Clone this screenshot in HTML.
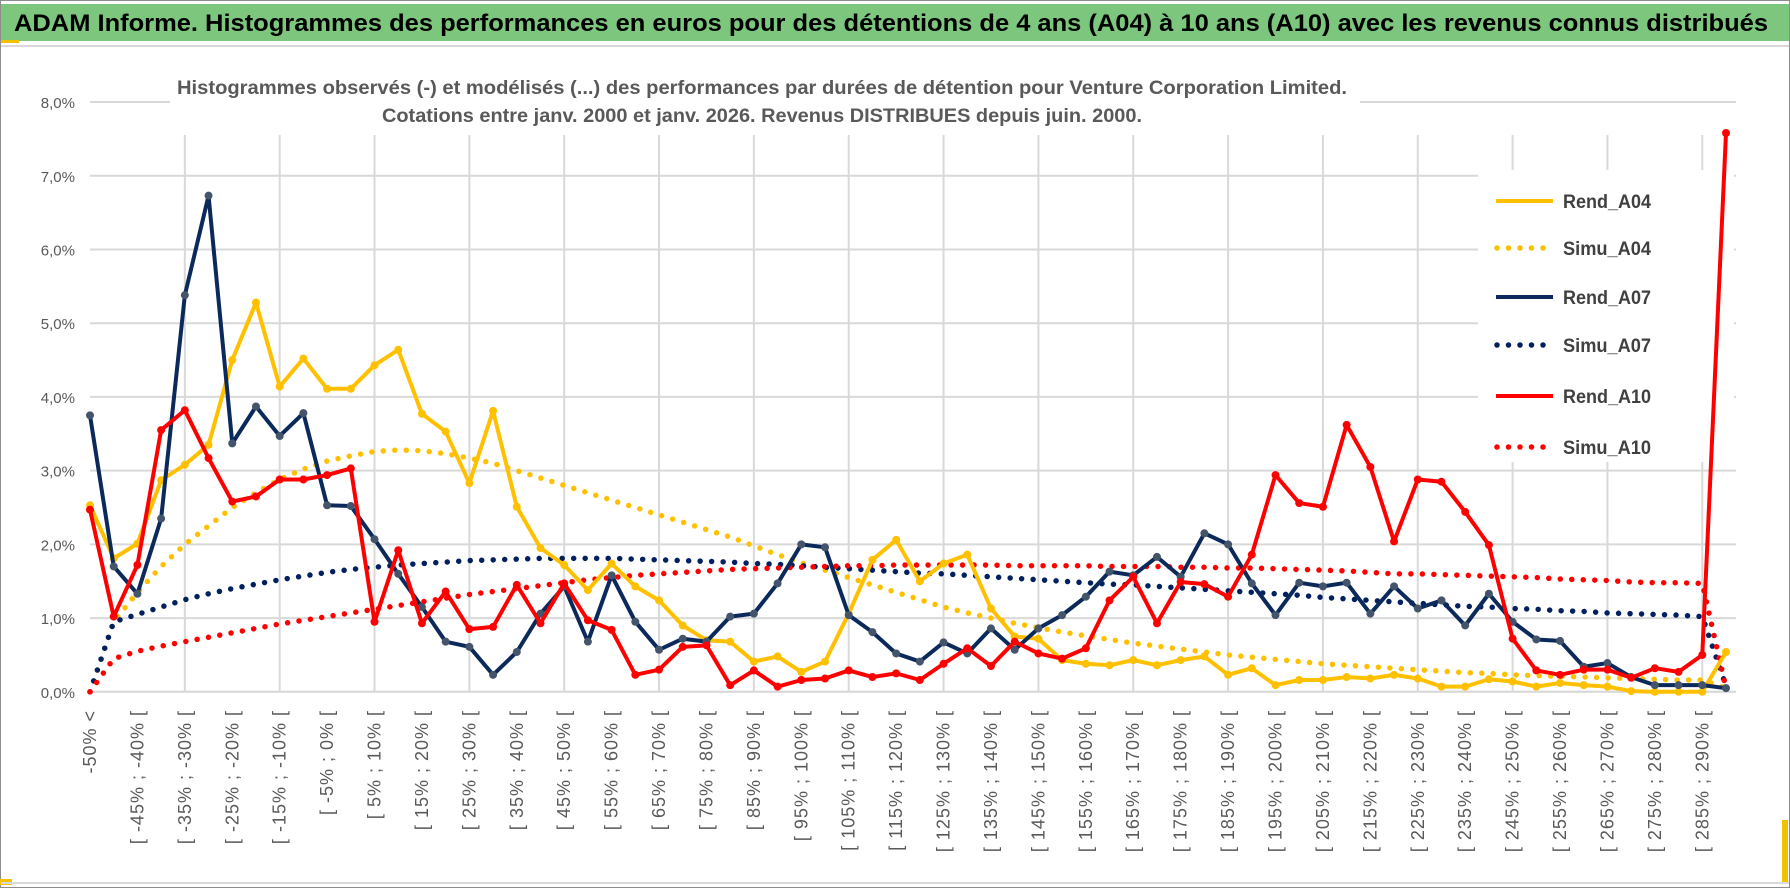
<!DOCTYPE html>
<html><head><meta charset="utf-8">
<style>
html,body{margin:0;padding:0;background:#fff}
body{width:1790px;height:888px;overflow:hidden;font-family:"Liberation Sans",sans-serif}
svg text{font-family:"Liberation Sans",sans-serif}
</style></head>
<body>
<svg id="chart" width="1790" height="888" viewBox="0 0 1790 888" xmlns="http://www.w3.org/2000/svg">
<rect x="0.5" y="0.5" width="1789" height="887" fill="#fff" stroke="#8c8c8c"/>
<rect x="1" y="4" width="1788" height="37" fill="#7dc67e"/>
<rect x="1" y="40" width="18" height="3" fill="#f2c200"/>
<line x1="1" y1="46" x2="1789" y2="46" stroke="#d9d9d9" stroke-width="2"/>
<text x="14" y="31" font-size="24" font-weight="bold" fill="#000" textLength="1754" lengthAdjust="spacingAndGlyphs">ADAM Informe. Histogrammes des performances en euros pour des détentions de 4 ans (A04) à 10 ans (A10) avec les revenus connus distribués</text>
<g id="grid"></g>
<rect x="170" y="70" width="1190" height="62" fill="#fff"/>
<text x="177" y="94" font-size="19" font-weight="bold" fill="#595959" textLength="1170" lengthAdjust="spacingAndGlyphs">Histogrammes observés (-) et modélisés (...) des performances par durées de détention pour Venture Corporation Limited.</text>
<text x="382" y="122" font-size="19" font-weight="bold" fill="#595959" textLength="760" lengthAdjust="spacingAndGlyphs">Cotations entre janv. 2000 et janv. 2026. Revenus DISTRIBUES depuis juin. 2000.</text>
<g id="yaxis"></g>
<g id="xaxis"></g>
<g id="legend"></g>
<g id="series"></g>
<rect x="0" y="879" width="12" height="6" fill="#f2c200"/>
<rect x="1782" y="820" width="6" height="64" fill="#f2c200"/>
<line x1="1" y1="883" x2="1789" y2="883" stroke="#d9d9d9" stroke-width="2"/>
</svg>
<script>
const yTicks = [0,1,2,3,4,5,6,7,8];
const rendA04 = [2.53,1.81,2.01,2.87,3.08,3.35,4.5,5.28,4.14,4.52,4.11,4.11,4.43,4.64,3.77,3.53,2.83,3.81,2.51,1.95,1.72,1.38,1.74,1.43,1.24,0.9,0.7,0.68,0.41,0.48,0.27,0.41,1.06,1.79,2.06,1.5,1.74,1.86,1.13,0.75,0.72,0.43,0.38,0.36,0.43,0.36,0.43,0.48,0.23,0.32,0.09,0.16,0.16,0.2,0.18,0.23,0.18,0.07,0.07,0.17,0.14,0.07,0.12,0.09,0.07,0.01,0,0,0,0.54];
const rendA07 = [3.75,1.7,1.33,2.35,5.38,6.73,3.37,3.87,3.47,3.78,2.53,2.52,2.07,1.6,1.15,0.68,0.61,0.23,0.54,1.06,1.43,0.68,1.58,0.95,0.57,0.72,0.68,1.02,1.06,1.47,2.0,1.96,1.04,0.81,0.52,0.41,0.67,0.52,0.86,0.57,0.86,1.04,1.29,1.63,1.58,1.83,1.56,2.15,2.0,1.47,1.04,1.48,1.43,1.48,1.06,1.43,1.13,1.24,0.9,1.33,0.95,0.71,0.69,0.34,0.39,0.2,0.09,0.09,0.09,0.05];
const rendA10 = [2.47,1.02,1.72,3.55,3.82,3.17,2.58,2.65,2.88,2.88,2.94,3.03,0.95,1.92,0.93,1.36,0.85,0.88,1.45,0.93,1.47,0.97,0.84,0.23,0.3,0.61,0.63,0.09,0.29,0.07,0.16,0.18,0.29,0.2,0.25,0.16,0.38,0.59,0.35,0.68,0.52,0.45,0.59,1.24,1.56,0.93,1.49,1.46,1.29,1.86,2.94,2.56,2.51,3.62,3.05,2.04,2.88,2.85,2.44,1.99,0.72,0.29,0.23,0.3,0.3,0.19,0.32,0.27,0.5,7.58];
const simuA04 = [0,0.95,1.35,1.7,2.0,2.25,2.5,2.7,2.88,3.02,3.13,3.2,3.26,3.28,3.27,3.23,3.17,3.1,3.0,2.9,2.8,2.7,2.6,2.5,2.4,2.3,2.2,2.1,1.98,1.86,1.75,1.65,1.55,1.45,1.35,1.25,1.15,1.07,1.0,0.93,0.87,0.81,0.76,0.71,0.66,0.62,0.58,0.54,0.5,0.47,0.44,0.41,0.38,0.36,0.34,0.32,0.3,0.28,0.26,0.25,0.23,0.22,0.21,0.2,0.19,0.18,0.17,0.16,0.16,0.05];
const simuA07 = [0,0.95,1.05,1.15,1.25,1.33,1.4,1.46,1.52,1.57,1.62,1.66,1.69,1.72,1.74,1.76,1.78,1.79,1.8,1.81,1.81,1.81,1.81,1.8,1.79,1.78,1.77,1.76,1.74,1.73,1.71,1.69,1.67,1.65,1.63,1.61,1.6,1.58,1.56,1.54,1.52,1.5,1.48,1.46,1.45,1.43,1.41,1.39,1.37,1.35,1.33,1.31,1.28,1.26,1.24,1.22,1.2,1.18,1.16,1.15,1.13,1.12,1.1,1.09,1.07,1.06,1.05,1.04,1.02,0.08];
const simuA10 = [0,0.45,0.55,0.62,0.68,0.74,0.8,0.86,0.92,0.97,1.02,1.07,1.12,1.17,1.22,1.27,1.32,1.36,1.4,1.44,1.48,1.52,1.55,1.58,1.6,1.62,1.64,1.66,1.67,1.68,1.69,1.7,1.71,1.71,1.72,1.72,1.72,1.72,1.72,1.71,1.71,1.71,1.71,1.7,1.7,1.7,1.69,1.69,1.68,1.68,1.67,1.66,1.65,1.64,1.62,1.6,1.6,1.59,1.58,1.57,1.56,1.55,1.53,1.52,1.51,1.49,1.48,1.48,1.47,0.05];
const categories = [];
categories.push('-50% <');
for (let k = 1; k < 70; k++) { categories.push('[ ' + (-55 + 5*k) + '% ; ' + (-50 + 5*k) + '% ['); }
const legendNames = ['Rend_A04','Simu_A04','Rend_A07','Simu_A07','Rend_A10','Simu_A10'];

const NS = 'http://www.w3.org/2000/svg';
const X0 = 90, X1 = 1726, Y0 = 691.8, YPER = 73.72, RIGHT = 1736;
const xS = i => X0 + i * (X1 - X0) / (categories.length - 1);
const yS = v => Y0 - v * YPER;
function mk(tag, attrs, parent){ const e = document.createElementNS(NS, tag); for (const k in attrs) e.setAttribute(k, attrs[k]); parent.appendChild(e); return e; }

const grid = document.getElementById('grid');
yTicks.forEach(t => {
  const l = mk('line', {x1:X0, x2:RIGHT, y1:yS(t), y2:yS(t), stroke:'#d9d9d9', 'stroke-width':2}, grid);
  
  
});
for (let i = 4; i < categories.length; i += 4) {
  const l = mk('line', {x1:xS(i), x2:xS(i), y1:135, y2:Y0, stroke:'#d9d9d9', 'stroke-width':2}, grid);
  
  
}
const yax = document.getElementById('yaxis');
yTicks.forEach(t => {
  const tx = mk('text', {x:75, y:yS(t)+6, 'font-size':15, fill:'#595959', 'text-anchor':'end'}, yax);
  tx.textContent = t.toFixed(1).replace('.', ',') + '%';
  
  
});
const xax = document.getElementById('xaxis');
const al = mk('line', {x1:X0, x2:RIGHT, y1:Y0, y2:Y0, stroke:'#d9d9d9', 'stroke-width':2}, xax);


categories.forEach((c, i) => {
  if (i % 2) return;
  const x = xS(i) + 6;
  const tx = mk('text', {x:0, y:0, 'font-size':18, 'letter-spacing':1, fill:'#595959', 'text-anchor':'end', transform:'translate(' + x + ',710) rotate(-90)'}, xax);
  tx.textContent = c;
  
  
});

const ser = document.getElementById('series');
function dotted(data, color, name){
  const p = mk('polyline', {points:data.map((v,i)=>xS(i)+','+yS(v)).join(' '), fill:'none', stroke:color, 'stroke-width':5.5, 'stroke-linecap':'round', 'stroke-dasharray':'0 11.5'}, ser);
  
  
}
function solid(data, color, mcol, name){
  const g = mk('g', {}, ser);
  
  
  mk('polyline', {points:data.map((v,i)=>xS(i)+','+yS(v)).join(' '), fill:'none', stroke:color, 'stroke-width':4, 'stroke-linejoin':'round'}, g);
  data.forEach((v,i) => {
    const c = mk('circle', {cx:xS(i), cy:yS(v), r:4, fill:mcol}, g);
    
    
  });
}
dotted(simuA04, '#ffc000', 'simu-a04-line');
dotted(simuA07, '#002060', 'simu-a07-line');
dotted(simuA10, '#ff0000', 'simu-a10-line');
solid(rendA04, '#ffc000', '#ffc000', 'rend-a04-line');
solid(rendA07, '#0b2a5b', '#44546a', 'rend-a07-line');
solid(rendA10, '#ff0000', '#ff0000', 'rend-a10-line');

const leg = document.getElementById('legend');
const lb = mk('rect', {x:1478, y:170, width:256, height:292, fill:'#fff'}, leg);


const legColors = ['#ffc000','#ffc000','#0b2a5b','#002060','#ff0000','#ff0000'];
const legY = [201,248,297,345,396,447];
legendNames.forEach((n, k) => {
  const g = mk('g', {}, leg);
  
  
  const y = legY[k];
  if (k % 2 === 0) mk('line', {x1:1496, x2:1553, y1:y, y2:y, stroke:legColors[k], 'stroke-width':4}, g);
  else mk('line', {x1:1497, x2:1553, y1:y, y2:y, stroke:legColors[k], 'stroke-width':5.5, 'stroke-linecap':'round', 'stroke-dasharray':'0 11.5'}, g);
  const t = mk('text', {x:1563, y:y+7, 'font-size':19, 'font-weight':'bold', fill:'#404040', textLength:88, lengthAdjust:'spacingAndGlyphs'}, g);
  t.textContent = n;
});
</script>
</body></html>
